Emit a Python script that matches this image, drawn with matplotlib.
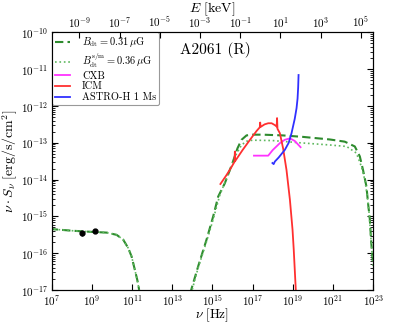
import numpy as np
import matplotlib
matplotlib.use("Agg")
import matplotlib.pyplot as plt
from matplotlib.ticker import LogLocator, NullLocator, FixedLocator

plt.rcParams['font.family'] = ['cmr10', 'DejaVu Serif']
plt.rcParams['mathtext.fontset'] = 'cm'
plt.rcParams['axes.formatter.use_mathtext'] = True

# ---- data (log10 nu [Hz], log10 nu*S_nu [erg/s/cm^2]) ----
sync_lognu = [6.9, 7.0, 8.06, 9.0, 9.74, 10.23, 10.56, 10.81, 10.98, 11.14, 11.26, 11.34, 11.40]
sync_logS = [-15.34, -15.345, -15.39, -15.42, -15.44, -15.50, -15.63, -15.86, -16.09, -16.45, -16.72, -16.95, -17.2]

ic_dash_lognu = [13.90, 13.97, 14.29, 14.71, 15.04, 15.29, 15.62, 16.0, 16.25, 16.45, 16.7, 17.0, 17.5,
                 18.5, 19.5, 20.84, 21.59, 22.09, 22.34, 22.50, 22.67, 22.75, 22.84, 22.89, 22.93, 23.0]
ic_dash_logS = [-17.1, -16.95, -16.36, -15.63, -15.0, -14.46, -14.10, -13.55, -13.15, -12.92, -12.80, -12.78, -12.78,
                -12.80, -12.84, -12.91, -12.97, -13.10, -13.37, -13.74, -14.19, -14.64, -15.09, -15.55, -15.86, -16.3]

ic_dot_lognu = [13.95, 14.0, 14.29, 14.71, 15.04, 15.37, 15.7, 16.0, 16.2, 16.45, 16.7, 17.0, 18.0, 19.35,
                20.84, 21.68, 22.17, 22.42, 22.59, 22.7, 22.8, 22.88, 22.95, 23.0]
ic_dot_logS = [-17.1, -16.98, -16.40, -15.68, -15.08, -14.42, -13.97, -13.58, -13.30, -13.06, -12.96, -12.93, -12.94, -13.0,
               -13.06, -13.10, -13.28, -13.65, -14.01, -14.4, -14.9, -15.5, -16.0, -16.4]

icm_lognu = [15.40, 15.7, 15.95, 16.10, 16.12, 16.13, 16.5, 16.87, 17.2, 17.36, 17.38, 17.40, 17.6, 17.78, 17.95, 18.11,
             18.20, 18.22, 18.24, 18.36, 18.52, 18.69, 18.86, 18.99, 19.05, 19.15, 19.18]
icm_logS = [-14.12, -13.88, -13.66, -13.52, -13.24, -13.50, -13.20, -12.92, -12.68, -12.58, -12.45, -12.57, -12.50, -12.47,
            -12.47, -12.52, -12.56, -12.33, -12.62, -12.74, -13.15, -13.74, -14.55, -15.36, -15.9, -16.97, -17.3]

cxb_lognu = [17.07, 17.78, 18.0, 18.36, 18.6, 18.86, 19.1, 19.39]
cxb_logS = [-13.35, -13.35, -13.20, -13.01, -12.92, -12.88, -12.95, -13.12]

astro_lognu = [17.99, 18.05, 18.11, 18.3, 18.61, 18.8, 18.94, 19.1, 19.19, 19.24, 19.27, 19.29]
astro_logS = [-13.55, -13.58, -13.51, -13.40, -13.19, -13.00, -12.74, -12.35, -12.06, -11.80, -11.50, -11.16]

radio_nu = [3.3e8, 1.4e9]
radio_S = [3.5e-16, 3.9e-16]
radio_err = [0.5e-16, 0.3e-16]

H_KEV = 4.135667e-18  # keV s

fig = plt.figure(figsize=(4.15, 3.23), dpi=100)
ax = fig.add_axes([0.1245, 0.102, 0.7745, 0.798])

def p(a):
    return 10.0 ** np.asarray(a)

ax.plot(p(sync_lognu), p(sync_logS), color='#2e8b2e', ls='--', lw=1.5, dashes=(4, 2),
        label=r'$B_{\rm dt}=0.31\,\mu{\rm G}$')
ax.plot(p(sync_lognu), p(sync_logS), color='#5fb85f', ls=':', lw=1.2,
        label=r'$B_{\rm dt}^{\rm s/m}=0.36\,\mu{\rm G}$')
ax.plot(p(ic_dash_lognu), p(ic_dash_logS), color='#2e8b2e', ls='--', lw=1.5, dashes=(4, 2))
ax.plot(p(ic_dot_lognu), p(ic_dot_logS), color='#5fb85f', ls=':', lw=1.2)
ax.plot(p(cxb_lognu), p(cxb_logS), color='#ff33ff', lw=1.3, label='CXB')
ax.plot(p(icm_lognu), p(icm_logS), color='#ff3030', lw=1.3, label='ICM')
ax.plot(p(astro_lognu), p(astro_logS), color='#3030ff', lw=1.3, label='ASTRO-H 1 Ms')
ax.errorbar(radio_nu, radio_S, yerr=radio_err, fmt='o', color='black', ms=3.5, capsize=0, lw=1)

ax.set_xscale('log')
ax.set_yscale('log')
ax.set_xlim(1e7, 1e23)
ax.set_ylim(1e-17, 1e-10)
ax.xaxis.set_major_locator(FixedLocator([10.0 ** k for k in range(7, 24, 2)]))
ax.xaxis.set_minor_locator(NullLocator())
ax.yaxis.set_major_locator(FixedLocator([10.0 ** k for k in range(-17, -9)]))
ax.yaxis.set_minor_locator(LogLocator(base=10, subs=np.arange(2, 10)))
ax.tick_params(axis='both', which='both', direction='in', labelsize=8, right=True)
ax.tick_params(axis='x', which='both', top=False, pad=2.5)
ax.tick_params(axis='y', which='both', pad=2.5)
ax.tick_params(which='major', length=4)
ax.tick_params(which='minor', length=2)
ax.set_xlabel(r'$\nu\ [{\rm Hz}]$', fontsize=9.5, labelpad=-1.5)
ax.set_ylabel(r'$\nu\cdot S_\nu\ [{\rm erg/s/cm}^2]$', fontsize=10, labelpad=1)

ax2 = ax.twiny()
ax2.set_xscale('log')
ax2.set_xlim(1e7 * H_KEV, 1e23 * H_KEV)
ax2.xaxis.set_major_locator(FixedLocator([10.0 ** k for k in range(-9, 6, 2)]))
ax2.xaxis.set_minor_locator(NullLocator())
ax2.tick_params(axis='x', which='both', direction='in', labelsize=8, length=4, pad=2)
ax2.set_xlabel(r'$E\ [{\rm keV}]$', fontsize=10, labelpad=1.5)

ax.text(0.40, 0.93, 'A2061 (R)', transform=ax.transAxes, fontsize=11, va='center', ha='left')

leg = ax.legend(loc='upper left', fontsize=7.5, borderaxespad=0, borderpad=0.3, handlelength=1.5,
                handletextpad=1.1, labelspacing=0.12, fancybox=True, framealpha=1,
                edgecolor='#999999')
leg.get_frame().set_linewidth(0.8)

fig.savefig('out.png', dpi=100)
